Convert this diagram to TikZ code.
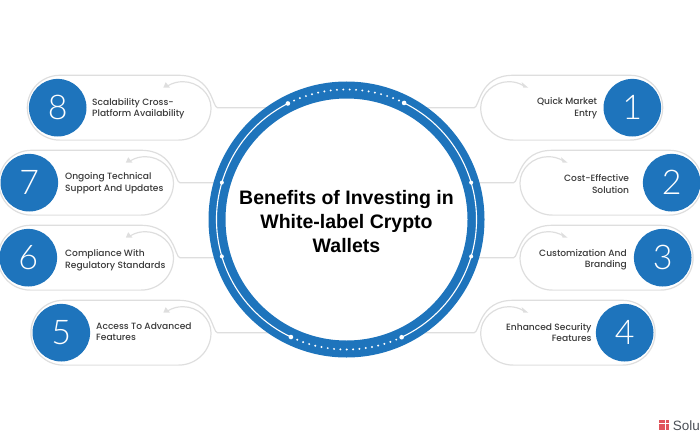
\documentclass[tikz,border=0pt]{standalone}
\usepackage{fontspec}
\setmainfont{Poppins Medium}
\newfontfamily\numfont{Lato Light}
\newfontfamily\titlefont{Liberation Sans}
\definecolor{hubblue}{HTML}{1E74BC}
\definecolor{pillgray}{HTML}{DEDEDE}
\definecolor{labelgray}{HTML}{3A3A3A}
\definecolor{logotext}{HTML}{4A4F57}
\definecolor{logored}{HTML}{E0555C}
\tikzset{
  pillline/.style={draw=pillgray,line width=1.2pt},
  numdisc/.style={circle,fill=hubblue,inner sep=0pt,outer sep=0pt,minimum size=57.6pt,text=white,font=\numfont\fontsize{34}{34}\selectfont},
  lefttext/.style={anchor=west,align=left,inner sep=0pt,text=labelgray,font=\fontsize{9.1}{11.5}\selectfont},
  righttext/.style={anchor=east,align=right,inner sep=0pt,text=labelgray,font=\fontsize{9.1}{11.5}\selectfont},
  hubring/.style={circle,fill=white,draw=hubblue,line width=17pt,inner sep=0pt,outer sep=0pt,minimum size=259pt},
  hubtitle/.style={align=center,inner sep=0pt,text=black,font=\titlefont\bfseries\fontsize{19.5}{23.8}\selectfont},
}
% #1 number, #2 disc x, #3 right end, #4 cy, #5 text position, #6 text
\newcommand{\pillleft}[6]{%
  \coordinate (end#1) at (270,#4);
  \draw[pillline] (end#1) -- (#3+6.5,#4) .. controls (#3+1,#4) and (#3+2,#4-32.4) .. (#3-32.4,#4-32.4)
    -- (#2+2,#4-32.4) arc[start angle=90,end angle=270,radius=32.4pt]
    -- (#3-32.4,#4+32.4) arc[start angle=-90,end angle=0,radius=32.4pt]
    .. controls (#3,#4-14) and (#3-13,#4-26) .. (#3-28,#4-26)
    .. controls (#3-33,#4-26) and (#3-38,#4-25) .. (#3-43,#4-22);
  \fill[pillgray] (#3-47.7,#4-20) -- (#3-41,#4-20) -- (#3-45.3,#4-25.5) -- cycle;
  \node[numdisc] (disc#1) at (#2,#4) {#1};
  \node[lefttext] (text#1) at (#5) {#6};
}
\newcommand{\pillright}[6]{%
  \coordinate (end#1) at (420,#4);
  \draw[pillline] (end#1) -- (#3-6.5,#4) .. controls (#3-1,#4) and (#3-2,#4-32.4) .. (#3+32.4,#4-32.4)
    -- (#2-2,#4-32.4) arc[start angle=90,end angle=-90,radius=32.4pt]
    -- (#3+32.4,#4+32.4) arc[start angle=270,end angle=180,radius=32.4pt]
    .. controls (#3,#4-14) and (#3+13,#4-26) .. (#3+28,#4-26)
    .. controls (#3+33,#4-26) and (#3+38,#4-25) .. (#3+43,#4-22);
  \fill[pillgray] (#3+47.6,#4-20) -- (#3+41,#4-25.5) -- (#3+42.6,#4-20) -- cycle;
  \node[numdisc] (disc#1) at (#2,#4) {#1};
  \node[righttext] (text#1) at (#5) {#6};
}
\begin{document}
\begin{tikzpicture}[x=1pt,y=-1pt]
\useasboundingbox (0,0) rectangle (700,441);
\clip (0,0) rectangle (700,441);
\pillleft{8}{57.7}{211}{107.7}{92,108.5}{Scalability Cross-\\Platform Availability}
\pillleft{7}{29.3}{173.5}{182.7}{65,183}{Ongoing Technical\\Support And Updates}
\pillleft{6}{28.3}{173.5}{257.7}{65,260.2}{Compliance With\\Regulatory Standards}
\pillleft{5}{61.3}{211}{332.7}{96,331.5}{Access To Advanced\\Features}
\pillright{1}{632.3}{480.7}{107.7}{597.3,108.3}{Quick Market\\Entry}
\pillright{2}{671.7}{520}{182.7}{629.3,183.8}{Cost-Effective\\Solution}
\pillright{3}{662.7}{520}{257.7}{627,259.6}{Customization And\\Branding}
\pillright{4}{624.7}{480.7}{332.7}{591.7,332.3}{Enhanced Security\\Features}
\node[hubring] (hub) at (346.5,219.5) {};
\node[hubtitle] (title) at (346.5,221.5) {Benefits of Investing in\\White-label Crypto\\Wallets};
\draw[white,line width=1.1pt] (hub.center) ++(116.8:130pt) arc[start angle=116.8,end angle=244.7,radius=130pt];
\draw[white,line width=1.1pt] (hub.center) ++(63.7:130pt) arc[start angle=63.7,end angle=-64.9,radius=130pt];
\foreach \a in {116.8,63.7,244.7,-64.9} \fill[white] (hub.center) ++(\a:130pt) circle[radius=2.3pt];
\foreach \a in {66.2,69,...,114.5} \fill[white] (hub.center) ++(\a:130pt) circle[radius=1.1pt];
\foreach \a in {-67.5,-70.3,...,-112.8} \fill[white] (hub.center) ++(\a:130pt) circle[radius=1.1pt];
\foreach \a in {163.5,196.5,16.5,-16.5} \fill[white] (hub.center) ++(\a:130pt) circle[radius=2pt];
% logo
\foreach \i in {0,1,2} \foreach \j in {0,1,2}
  \fill[logored] (658.5+\i*3.8,420+\j*3.7) rectangle ++(3,3);
\node[anchor=west,inner sep=0pt,text=logotext,font=\titlefont\fontsize{13.5}{13.5}\selectfont] (logo) at (672.6,425.5) {Solu};
\end{tikzpicture}
\end{document}
